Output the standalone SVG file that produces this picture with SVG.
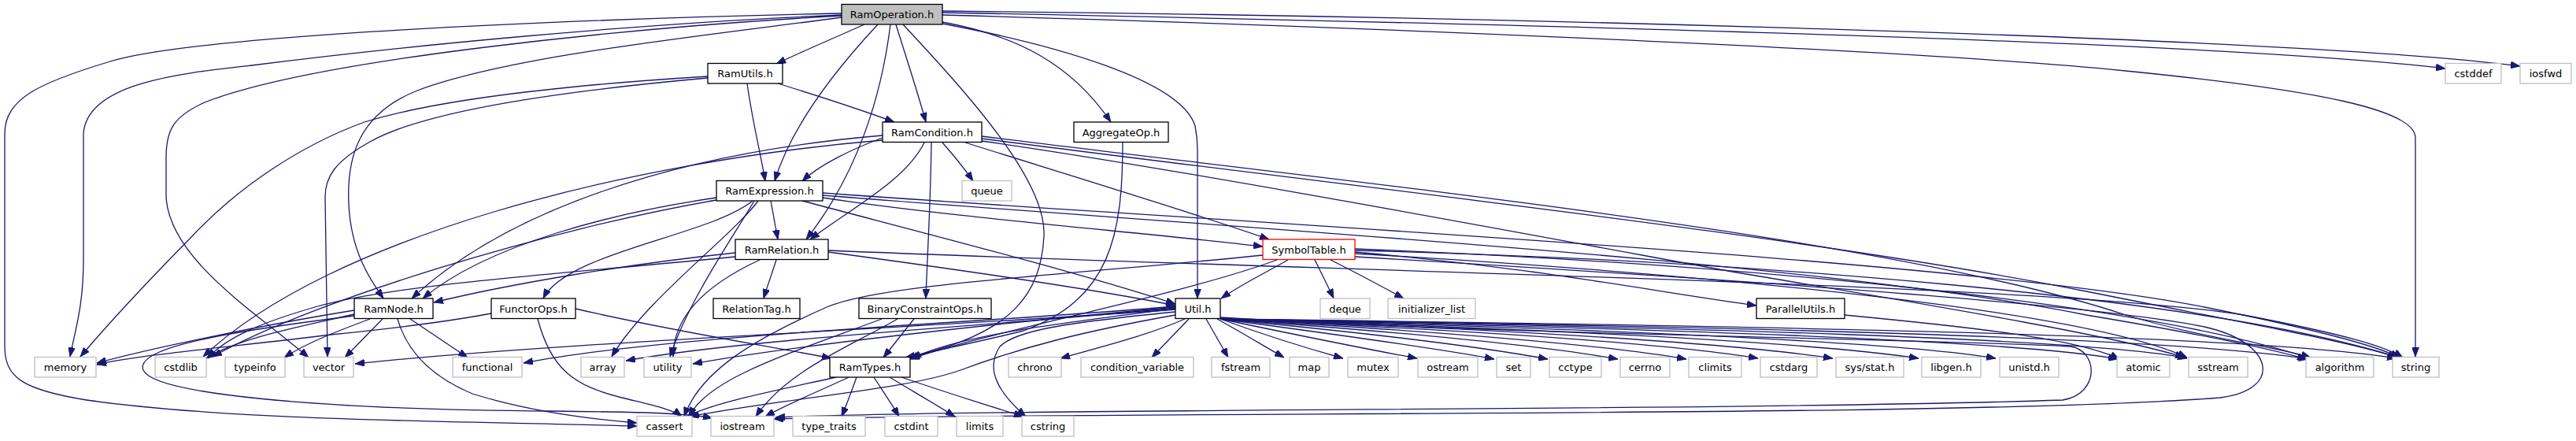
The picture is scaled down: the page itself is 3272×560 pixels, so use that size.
<svg xmlns="http://www.w3.org/2000/svg" width="3272" height="560" viewBox="0 0 3272 560">
<style>
.n rect{fill:#fff;stroke:#000;stroke-width:1.3}
.s rect{fill:#fff;stroke:#bfbfbf;stroke-width:1.3}
.root rect{fill:#bfbfbf;stroke:#000;stroke-width:1.3}
.red rect{fill:#fff;stroke:#ff0000;stroke-width:1.3}
text{font-family:"DejaVu Sans","Liberation Sans",sans-serif;font-size:13px;text-anchor:middle;fill:#000}
#edges path{fill:none;stroke:#191970;stroke-width:1.3;marker-end:url(#arr)}
</style>
<defs>
<marker id="arr" viewBox="0 0 12 9" refX="12" refY="4.5" markerWidth="12" markerHeight="9" markerUnits="userSpaceOnUse" orient="auto"><path d="M0,0 L12,4.5 L0,9 z" fill="#191970" stroke="#191970" stroke-width="0.8"/></marker>
</defs>
<rect width="3272" height="560" fill="#fff"/>
<g id="edges">
<path d="M1098,31 C1060,48 1020,65 986,81"/>
<path d="M1138,31 C1150,70 1165,115 1176,155"/>
<path d="M1115,31 C1060,90 1005,160 984,230"/>
<path d="M1131,31 C1120,120 1090,220 1024,304"/>
<path d="M1069,22 C900,45 650,70 530,115 C455,145 440,200 443,260 C446,320 470,355 487,379"/>
<path d="M1197,28 C1290,45 1360,80 1411,155"/>
<path d="M1197,30 C1330,55 1500,100 1518,160 C1520,170 1521,180 1521,190 L1521,379"/>
<path d="M1147,31 C1230,120 1330,230 1326,300 C1322,370 1290,425 1150,454"/>
<path d="M1069,17 C700,25 250,45 140,78 C50,105 6,125 6,170 L6,440 C6,480 30,495 110,508 C300,535 600,535 809,541"/>
<path d="M1069,19 C800,30 500,60 320,83 C230,93 110,105 106,170 L106,330 C106,390 95,420 89,453"/>
<path d="M1069,20 C800,35 400,75 260,130 C220,148 211,165 211,200 L211,250 C215,330 330,400 392,454"/>
<path d="M1197,19 C1600,30 2400,60 2700,90 C2950,115 3068,140 3068,175 L3068,453"/>
<path d="M1197,16 C1800,28 2800,50 3106,87"/>
<path d="M1197,14 C1800,20 2900,45 3201,84"/>
<path d="M988,106 C1040,122 1090,138 1136,155"/>
<path d="M949,106 C955,150 965,190 972,230"/>
<path d="M899,97 C720,108 560,125 463,155 C380,185 300,240 244,300 C180,365 130,420 102,453"/>
<path d="M899,99 C720,115 540,140 470,180 C425,205 413,225 413,250 L416,453"/>
<path d="M1121,175 C1080,190 1040,210 1019,230"/>
<path d="M1174,181 C1150,230 1080,265 1029,304"/>
<path d="M1121,172 C850,195 640,270 523,379"/>
<path d="M1121,178 C800,205 420,300 258,453"/>
<path d="M1226,181 C1350,220 1500,265 1612,304"/>
<path d="M1183,181 C1182,260 1178,320 1176,379"/>
<path d="M1197,181 C1212,198 1225,214 1236,230"/>
<path d="M1247,173 C1700,230 2400,300 2700,400 C2800,430 2890,440 2935,454"/>
<path d="M1247,176 C1700,235 2300,300 2650,370 C2850,410 2990,435 3045,454"/>
<path d="M1247,179 C1500,215 1900,290 2200,345 C2500,395 2700,430 2775,454"/>
<path d="M979,255 C982,272 985,288 988,304"/>
<path d="M910,251 C780,270 620,310 537,379"/>
<path d="M910,254 C700,290 400,380 270,453"/>
<path d="M956,255 C900,300 720,320 690,379"/>
<path d="M963,255 C930,300 820,380 777,453"/>
<path d="M958,255 C935,295 875,380 851,453"/>
<path d="M1045,245 C1600,285 2500,330 2800,390 C2950,420 3020,440 3048,454"/>
<path d="M1045,248 C1500,285 2300,330 2650,400 C2800,425 2890,445 2930,456"/>
<path d="M1019,255 C1150,290 1350,340 1493,386"/>
<path d="M1045,251 C1200,275 1450,295 1604,313"/>
<path d="M934,321 C800,335 650,360 551,384"/>
<path d="M934,326 C750,345 500,360 400,390 C330,410 285,430 264,455"/>
<path d="M986,330 C981,346 975,362 970,379"/>
<path d="M965,330 C900,360 855,400 855,453"/>
<path d="M1052,320 C1200,340 1380,365 1493,388"/>
<path d="M1052,318 C1700,345 2600,360 2850,400 C2980,425 3030,440 3052,454"/>
<path d="M1636,330 C1610,345 1575,362 1551,379"/>
<path d="M1604,324 C1350,350 1120,360 1050,390 C960,430 890,470 869,529"/>
<path d="M1721,326 C2200,355 2650,385 2800,415 C2890,435 2900,495 2820,505 C2500,530 1500,522 983,532"/>
<path d="M1721,320 C1950,340 2100,370 2231,388"/>
<path d="M1670,330 C1678,346 1686,362 1694,379"/>
<path d="M1690,330 C1722,346 1752,362 1783,379"/>
<path d="M1721,316 C2200,335 2700,380 2935,455"/>
<path d="M1721,318 C2200,330 2800,375 3050,455"/>
<path d="M1721,322 C2200,350 2650,395 2778,454"/>
<path d="M1622,330 C1500,375 1260,420 1156,456"/>
<path d="M1493,392 C1350,410 1220,425 1158,455"/>
<path d="M1505,405 C1460,425 1400,440 1347,455"/>
<path d="M1510,405 C1495,421 1478,438 1463,454"/>
<path d="M1532,405 C1541,421 1551,438 1560,454"/>
<path d="M1546,405 C1575,421 1603,438 1631,454"/>
<path d="M1550,405 C1610,427 1670,445 1706,455"/>
<path d="M1550,405 C1650,426 1740,444 1800,455"/>
<path d="M1550,405 C1700,425 1830,443 1898,456"/>
<path d="M1550,405 C1750,424 1890,442 1966,456"/>
<path d="M1550,405 C1800,423 1970,441 2055,456"/>
<path d="M1550,405 C1850,422 2050,440 2142,456"/>
<path d="M1550,405 C1900,421 2130,438 2233,455"/>
<path d="M1550,405 C1950,420 2210,437 2328,455"/>
<path d="M1550,405 C2000,419 2310,436 2437,455"/>
<path d="M1550,405 C2050,418 2410,434 2535,455"/>
<path d="M1550,405 C2100,417 2560,432 2690,456"/>
<path d="M1550,405 C2150,416 2660,430 2778,455"/>
<path d="M1550,405 C2200,415 2760,428 2932,456"/>
<path d="M1550,405 C2250,414 2860,425 3044,455"/>
<path d="M1550,403 C1900,425 2450,430 2630,440 C2665,445 2668,500 2620,508 C2200,522 1300,518 985,530"/>
<path d="M1493,400 C1380,420 1300,440 1220,470 C1150,495 1000,505 876,529"/>
<path d="M1493,396 C1350,410 1290,420 1270,440 C1250,470 1270,500 1303,529"/>
<path d="M1493,390 C1250,412 1000,440 880,462"/>
<path d="M1493,391 C1250,415 950,430 795,458"/>
<path d="M1493,389 C1250,410 850,425 665,461"/>
<path d="M1493,393 C1200,415 700,435 451,462"/>
<path d="M731,392 C850,420 980,440 1056,455"/>
<path d="M683,405 C700,470 730,490 790,505 C830,515 855,520 866,529"/>
<path d="M624,398 C560,410 470,420 420,425 C300,440 180,450 123,463"/>
<path d="M1161,405 C1148,421 1135,438 1122,454"/>
<path d="M1120,405 C1000,450 900,480 875,529"/>
<path d="M1140,405 C1080,440 1000,470 960,529"/>
<path d="M450,394 C350,410 200,440 123,461"/>
<path d="M450,399 C380,415 300,430 262,455"/>
<path d="M470,405 C430,420 390,435 361,454"/>
<path d="M486,405 C470,421 454,438 438,454"/>
<path d="M521,405 C545,421 570,438 594,454"/>
<path d="M505,405 C515,440 540,475 600,500 C680,525 760,533 809,537"/>
<path d="M450,401 C300,420 170,440 182,470 C195,500 400,520 700,522 C800,523 870,524 905,531"/>
<path d="M1062,479 C990,495 910,510 872,529"/>
<path d="M1078,479 C1040,497 1000,513 972,529"/>
<path d="M1088,479 C1082,496 1076,512 1069,529"/>
<path d="M1110,479 C1121,496 1132,512 1142,529"/>
<path d="M1130,479 C1158,496 1186,512 1213,529"/>
<path d="M1145,479 C1195,496 1245,512 1300,529"/>
<path d="M1426,181 C1426,300 1410,380 1300,420 C1220,440 1180,445 1155,456"/>
<path d="M2343,400 C2500,415 2640,430 2692,456"/>
</g>
<g id="RamOperation" class="root"><rect x="1069" y="5.5" width="128" height="25.5"/><text x="1133" y="23">RamOperation.h</text></g>
<g id="RamUtils" class="n"><rect x="899" y="80.5" width="95" height="25.5"/><text x="946.5" y="98">RamUtils.h</text></g>
<g id="cstddef" class="s"><rect x="3106" y="80.5" width="71" height="25.5"/><text x="3141.5" y="98">cstddef</text></g>
<g id="iosfwd" class="s"><rect x="3201" y="80.5" width="65" height="25.5"/><text x="3233.5" y="98">iosfwd</text></g>
<g id="RamCondition" class="n"><rect x="1121" y="155" width="126" height="25.5"/><text x="1184" y="172.5">RamCondition.h</text></g>
<g id="AggregateOp" class="n"><rect x="1364" y="155" width="120" height="25.5"/><text x="1424" y="172.5">AggregateOp.h</text></g>
<g id="RamExpression" class="n"><rect x="910" y="229.5" width="135" height="25.5"/><text x="977.5" y="247">RamExpression.h</text></g>
<g id="queue" class="s"><rect x="1222" y="229.5" width="63" height="25.5"/><text x="1253.5" y="247">queue</text></g>
<g id="RamRelation" class="n"><rect x="934" y="304" width="118" height="25.5"/><text x="993" y="321.5">RamRelation.h</text></g>
<g id="SymbolTable" class="red"><rect x="1604" y="304" width="117" height="25.5"/><text x="1662.5" y="321.5">SymbolTable.h</text></g>
<g id="RamNode" class="n"><rect x="450" y="379" width="100" height="25.5"/><text x="500" y="396.5">RamNode.h</text></g>
<g id="FunctorOps" class="n"><rect x="624" y="379" width="107" height="25.5"/><text x="677.5" y="396.5">FunctorOps.h</text></g>
<g id="RelationTag" class="n"><rect x="906" y="379" width="110" height="25.5"/><text x="961" y="396.5">RelationTag.h</text></g>
<g id="BinaryConstraintOps" class="n"><rect x="1091" y="379" width="168" height="25.5"/><text x="1175" y="396.5">BinaryConstraintOps.h</text></g>
<g id="Util" class="n"><rect x="1493" y="379" width="57" height="25.5"/><text x="1521.5" y="396.5">Util.h</text></g>
<g id="deque" class="s"><rect x="1677" y="379" width="63" height="25.5"/><text x="1708.5" y="396.5">deque</text></g>
<g id="initializer_list" class="s"><rect x="1763" y="379" width="111" height="25.5"/><text x="1818.5" y="396.5">initializer_list</text></g>
<g id="ParallelUtils" class="n"><rect x="2231" y="379" width="112" height="25.5"/><text x="2287" y="396.5">ParallelUtils.h</text></g>
<g id="memory" class="s"><rect x="44" y="453.5" width="78" height="25.5"/><text x="83" y="471">memory</text></g>
<g id="cstdlib" class="s"><rect x="197" y="453.5" width="65" height="25.5"/><text x="229.5" y="471">cstdlib</text></g>
<g id="typeinfo" class="s"><rect x="286" y="453.5" width="76" height="25.5"/><text x="324" y="471">typeinfo</text></g>
<g id="vector" class="s"><rect x="386" y="453.5" width="63" height="25.5"/><text x="417.5" y="471">vector</text></g>
<g id="functional" class="s"><rect x="575" y="453.5" width="88" height="25.5"/><text x="619" y="471">functional</text></g>
<g id="array" class="s"><rect x="738" y="453.5" width="55" height="25.5"/><text x="765.5" y="471">array</text></g>
<g id="utility" class="s"><rect x="818" y="453.5" width="60" height="25.5"/><text x="848" y="471">utility</text></g>
<g id="RamTypes" class="n"><rect x="1054" y="453.5" width="102" height="25.5"/><text x="1105" y="471">RamTypes.h</text></g>
<g id="chrono" class="s"><rect x="1281" y="453.5" width="67" height="25.5"/><text x="1314.5" y="471">chrono</text></g>
<g id="condition_variable" class="s"><rect x="1373" y="453.5" width="143" height="25.5"/><text x="1444.5" y="471">condition_variable</text></g>
<g id="fstream" class="s"><rect x="1539" y="453.5" width="74" height="25.5"/><text x="1576" y="471">fstream</text></g>
<g id="map" class="s"><rect x="1638" y="453.5" width="50" height="25.5"/><text x="1663" y="471">map</text></g>
<g id="mutex" class="s"><rect x="1712" y="453.5" width="64" height="25.5"/><text x="1744" y="471">mutex</text></g>
<g id="ostream" class="s"><rect x="1801" y="453.5" width="76" height="25.5"/><text x="1839" y="471">ostream</text></g>
<g id="set" class="s"><rect x="1901" y="453.5" width="43" height="25.5"/><text x="1922.5" y="471">set</text></g>
<g id="cctype" class="s"><rect x="1968" y="453.5" width="66" height="25.5"/><text x="2001" y="471">cctype</text></g>
<g id="cerrno" class="s"><rect x="2058" y="453.5" width="63" height="25.5"/><text x="2089.5" y="471">cerrno</text></g>
<g id="climits" class="s"><rect x="2145" y="453.5" width="67" height="25.5"/><text x="2178.5" y="471">climits</text></g>
<g id="cstdarg" class="s"><rect x="2236" y="453.5" width="72" height="25.5"/><text x="2272" y="471">cstdarg</text></g>
<g id="sys_stat" class="s"><rect x="2332" y="453.5" width="86" height="25.5"/><text x="2375" y="471">sys/stat.h</text></g>
<g id="libgen" class="s"><rect x="2441" y="453.5" width="75" height="25.5"/><text x="2478.5" y="471">libgen.h</text></g>
<g id="unistd" class="s"><rect x="2540" y="453.5" width="75" height="25.5"/><text x="2577.5" y="471">unistd.h</text></g>
<g id="atomic" class="s"><rect x="2689" y="453.5" width="67" height="25.5"/><text x="2722.5" y="471">atomic</text></g>
<g id="sstream" class="s"><rect x="2780" y="453.5" width="75" height="25.5"/><text x="2817.5" y="471">sstream</text></g>
<g id="algorithm" class="s"><rect x="2929" y="453.5" width="86" height="25.5"/><text x="2972" y="471">algorithm</text></g>
<g id="string" class="s"><rect x="3039" y="453.5" width="59" height="25.5"/><text x="3068.5" y="471">string</text></g>
<g id="cassert" class="s"><rect x="809" y="528.5" width="70" height="25.5"/><text x="844" y="546">cassert</text></g>
<g id="iostream" class="s"><rect x="903" y="528.5" width="80" height="25.5"/><text x="943" y="546">iostream</text></g>
<g id="type_traits" class="s"><rect x="1007" y="528.5" width="92" height="25.5"/><text x="1053" y="546">type_traits</text></g>
<g id="cstdint" class="s"><rect x="1124" y="528.5" width="67" height="25.5"/><text x="1157.5" y="546">cstdint</text></g>
<g id="limits" class="s"><rect x="1215" y="528.5" width="59" height="25.5"/><text x="1244.5" y="546">limits</text></g>
<g id="cstring" class="s"><rect x="1298" y="528.5" width="66" height="25.5"/><text x="1331" y="546">cstring</text></g>
</svg>
